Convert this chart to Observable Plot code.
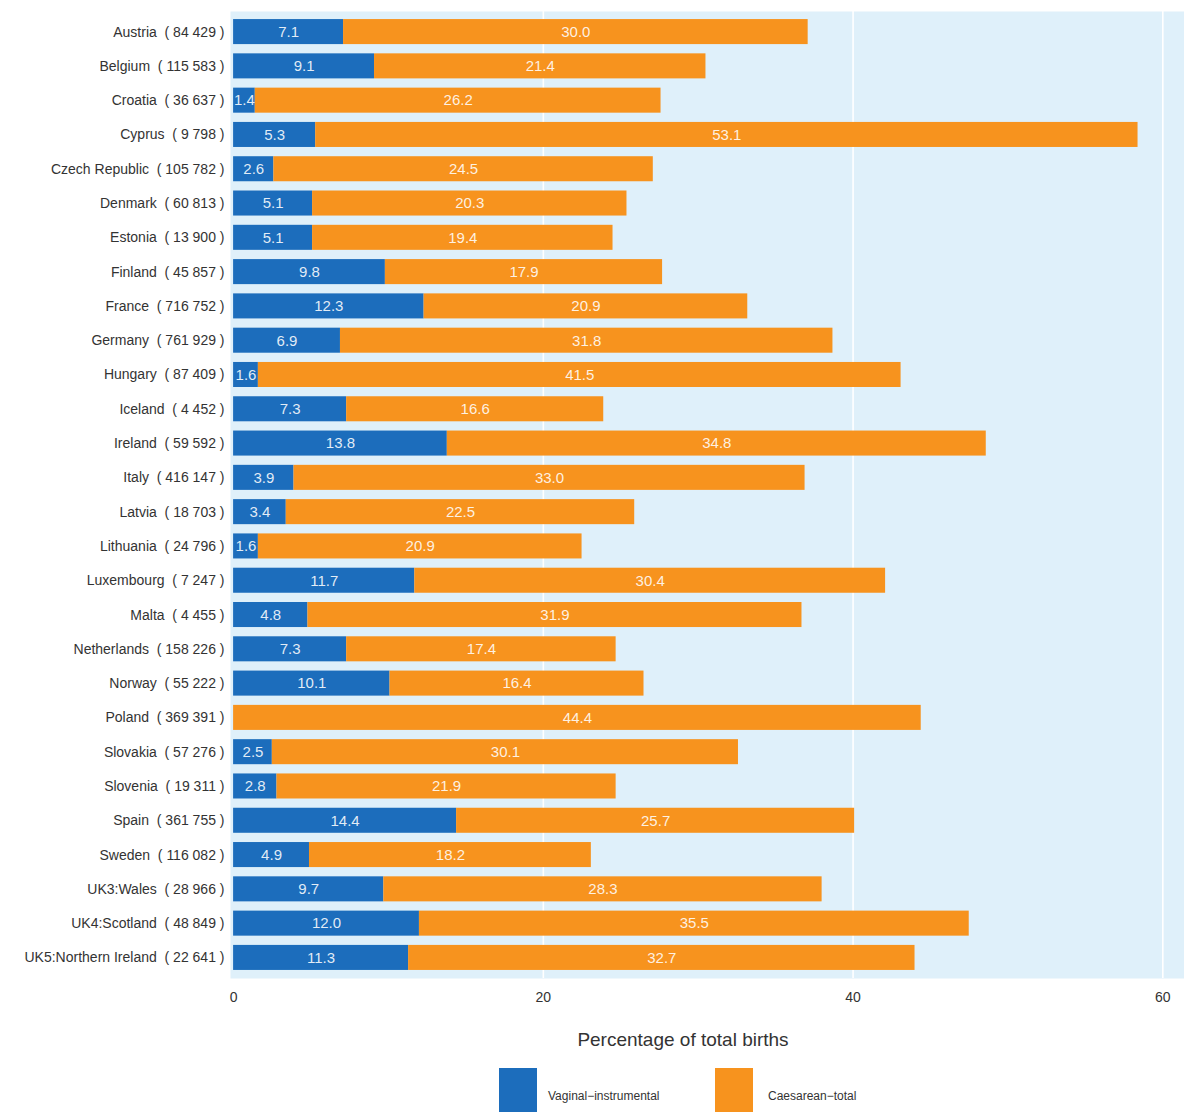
<!DOCTYPE html>
<html>
<head>
<meta charset="utf-8">
<script src="https://cdn.jsdelivr.net/npm/d3@7"></script>
<script src="https://cdn.jsdelivr.net/npm/@observablehq/plot@0.6"></script>
<style>
  html, body { margin: 0; padding: 0; background: #fff; }
  #wrap { position: relative; width: 1184px; height: 1112px; overflow: hidden; font-family: "Liberation Sans", Arial, sans-serif; }
  #title { position: absolute; top: 1029px; left: 0; width: 1366px; text-align: center; font-size: 19px; color: #333; }
  .sw { position: absolute; top: 1068px; width: 38px; height: 44px; }
  .lab { position: absolute; top: 1089px; font-size: 12px; color: #333; }
</style>
</head>
<body>
<div id="wrap">
  <div id="chart"></div>
  <div id="title">Percentage of total births</div>
  <div class="sw" style="left:499px;background:#1c6dbc"></div>
  <div class="lab" style="left:548px">Vaginal−instrumental</div>
  <div class="sw" style="left:715px;background:#f7931e"></div>
  <div class="lab" style="left:768px">Caesarean−total</div>
</div>
<script>
const countries = ["Austria","Belgium","Croatia","Cyprus","Czech Republic","Denmark","Estonia","Finland","France","Germany","Hungary","Iceland","Ireland","Italy","Latvia","Lithuania","Luxembourg","Malta","Netherlands","Norway","Poland","Slovakia","Slovenia","Spain","Sweden","UK3:Wales","UK4:Scotland","UK5:Northern Ireland"];
const births = [84429,115583,36637,9798,105782,60813,13900,45857,716752,761929,87409,4452,59592,416147,18703,24796,7247,4455,158226,55222,369391,57276,19311,361755,116082,28966,48849,22641];
const vaginalInstrumental = [7.1,9.1,1.4,5.3,2.6,5.1,5.1,9.8,12.3,6.9,1.6,7.3,13.8,3.9,3.4,1.6,11.7,4.8,7.3,10.1,null,2.5,2.8,14.4,4.9,9.7,12.0,11.3];
const caesareanTotal = [30.0,21.4,26.2,53.1,24.5,20.3,19.4,17.9,20.9,31.8,41.5,16.6,34.8,33.0,22.5,20.9,30.4,31.9,17.4,16.4,44.4,30.1,21.9,25.7,18.2,28.3,35.5,32.7];
const seriesNames = ["Vaginal−instrumental","Caesarean−total"];
const seriesColors = ["#1c6dbc","#f7931e"];
const xTicks = [0,20,40,60];

const fmtN = n => d3.format(",")(n).replace(/,/g, "\u00a0");
const labels = countries.map((c,i) => `${c}\u00a0\u00a0(\u00a0${fmtN(births[i])}\u00a0)`);

const rows = [];
countries.forEach((c,i) => {
  rows.push({label: labels[i], type: seriesNames[0], value: vaginalInstrumental[i] ?? 0, text: vaginalInstrumental[i] == null ? "" : vaginalInstrumental[i].toFixed(1)});
  rows.push({label: labels[i], type: seriesNames[1], value: caesareanTotal[i], text: caesareanTotal[i].toFixed(1)});
});

const chart = Plot.plot({
  width: 1184,
  height: 1020,
  marginLeft: 230,
  marginRight: 0,
  marginTop: 11,
  marginBottom: 42,
  style: {fontFamily: "'Liberation Sans', Arial, sans-serif", background: "#fff"},
  x: {domain: [-0.2, 61.4], ticks: xTicks, label: null},
  y: {domain: labels, paddingInner: 0.27, paddingOuter: 0.235, round: false, label: null},
  color: {domain: seriesNames, range: seriesColors},
  marks: [
    Plot.frame({fill: "#dff0fa", stroke: null}),
    Plot.gridX(xTicks.filter(t => t > 0), {stroke: "#fff", strokeOpacity: 1, strokeWidth: 1.6}),
    Plot.barX(rows, Plot.stackX({x: "value", y: "label", fill: "type", order: seriesNames})),
    Plot.text(rows, Plot.stackX({x: "value", y: "label", z: "type", order: seriesNames, text: "text", fill: "#fff", fillOpacity: 0.88, fontSize: 15})),
    Plot.axisX(xTicks, {tickSize: 0, tickPadding: 14, fontSize: 14, color: "#333", label: null}),
    Plot.axisY({tickSize: 0, tickPadding: 6, fontSize: 14, color: "#333", label: null})
  ]
});
document.getElementById("chart").appendChild(chart);
</script>
</body>
</html>
